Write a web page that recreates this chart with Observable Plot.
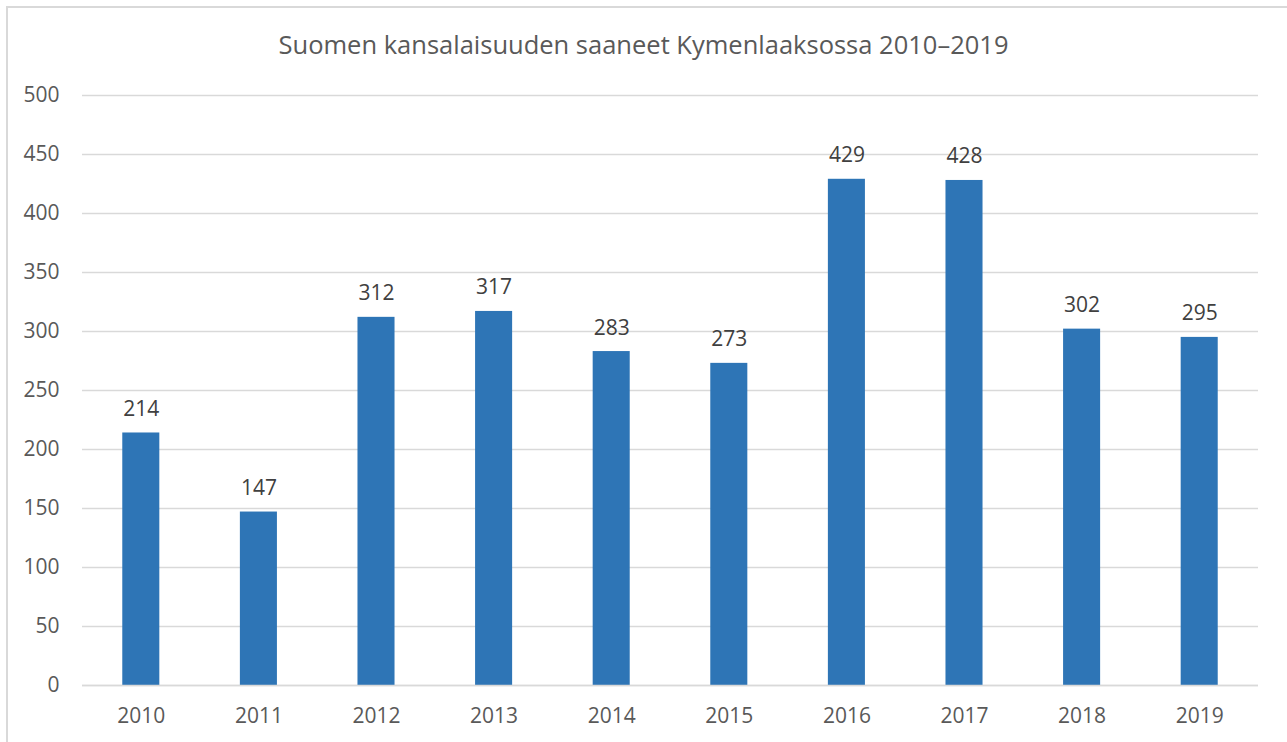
<!DOCTYPE html>
<html>
<head>
<meta charset="utf-8">
<script src="https://cdn.jsdelivr.net/npm/d3@7"></script>
<script src="https://cdn.jsdelivr.net/npm/@observablehq/plot@0.6"></script>
<style>
  html, body { margin: 0; padding: 0; background: #fff; }
  #wrap { position: relative; width: 1287px; height: 742px; overflow: hidden; font-family: "Open Sans", sans-serif; }
  #border { position: absolute; left: 6px; top: 6px; right: -10px; bottom: -10px; border-top: 2px solid #d9d9d9; border-left: 2px solid #d9d9d9; }
  #title { position: absolute; left: 0; top: 27px; width: 1287px; text-align: center; font-size: 25.5px; color: #595959; }
  #chart { position: absolute; left: 0; top: 80px; }
</style>
</head>
<body>
<div id="wrap">
  <div id="border"></div>
  <div id="title">Suomen kansalaisuuden saaneet Kymenlaaksossa 2010–2019</div>
  <div id="chart"></div>
</div>
<script>
const years = ["2010","2011","2012","2013","2014","2015","2016","2017","2018","2019"];
const values = [214, 147, 312, 317, 283, 273, 429, 428, 302, 295];
const yTicks = [0, 50, 100, 150, 200, 250, 300, 350, 400, 450, 500];

const data = years.map((y, i) => ({year: y, value: values[i]}));

const chart = Plot.plot({
  width: 1287,
  height: 662,
  marginLeft: 82,
  marginRight: 29,
  marginTop: 15,
  marginBottom: 57,
  style: {fontFamily: "Open Sans, sans-serif", fontSize: "21px", color: "#595959", background: "transparent"},
  x: {domain: years, paddingInner: 0.685, paddingOuter: 0.3425, round: false, label: null},
  y: {domain: [0, 500], ticks: yTicks, label: null},
  marks: [
    Plot.gridY(yTicks, {stroke: "#d9d9d9", strokeOpacity: 1, strokeWidth: 1.5}),
    Plot.barY(data, {x: "year", y: "value", fill: "#2e75b6"}),
    Plot.ruleY([0], {stroke: "#d9d9d9", strokeWidth: 1.5}),
    Plot.text(data, {x: "year", y: "value", text: d => String(d.value), lineAnchor: "bottom", dy: -17, fill: "#404040", fontSize: 21}),
    Plot.axisY(yTicks, {tickSize: 0, tickPadding: 23, fill: "#595959", fontSize: 21, label: null}),
    Plot.axisX({tickSize: 0, tickPadding: 23, fill: "#595959", fontSize: 21, label: null})
  ]
});
document.getElementById("chart").appendChild(chart);
</script>
</body>
</html>
